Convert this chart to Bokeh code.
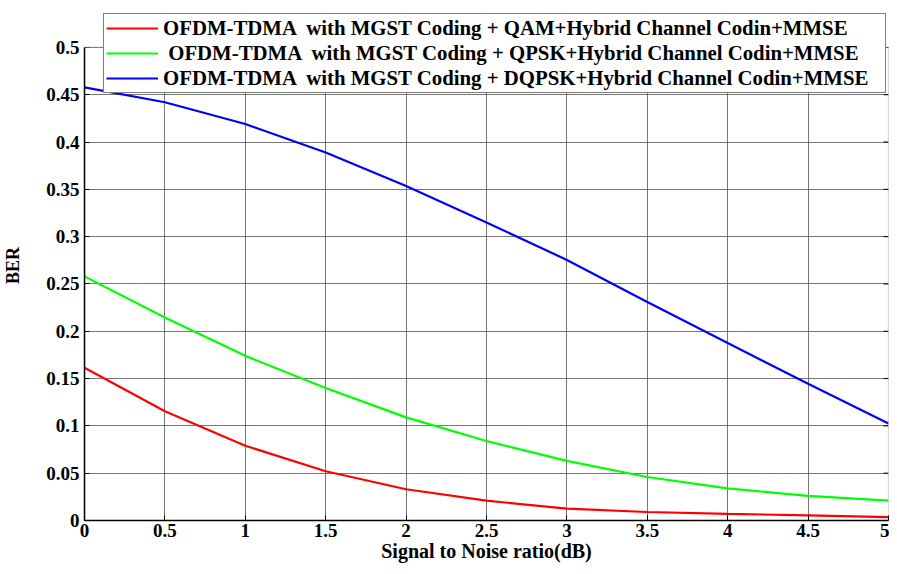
import math
from bokeh.plotting import figure
from bokeh.models import (Legend, LegendItem, FixedTicker, CustomJSTickFormatter,
                          Range1d, BoxAnnotation)
from bokeh.embed import file_html
from bokeh.resources import INLINE

# ---- data ----
snr = [0, 0.5, 1, 1.5, 2, 2.5, 3, 3.5, 4, 4.5, 5]
ber_qam = [0.1615, 0.1155, 0.079, 0.052, 0.033, 0.021, 0.0125, 0.009, 0.007, 0.0055, 0.0035]
ber_qpsk = [0.258, 0.2145, 0.174, 0.140, 0.109, 0.084, 0.063, 0.046, 0.034, 0.026, 0.021]
ber_dqpsk = [0.4577, 0.442, 0.419, 0.389, 0.3535, 0.315, 0.2754, 0.231, 0.1875, 0.1445, 0.1025]

x_ticks = [0, 0.5, 1, 1.5, 2, 2.5, 3, 3.5, 4, 4.5, 5]
y_ticks = [0, 0.05, 0.1, 0.15, 0.2, 0.25, 0.3, 0.35, 0.4, 0.45, 0.5]

labels = [
    "OFDM-TDMA  with MGST Coding + QAM+Hybrid Channel Codin+MMSE",
    " OFDM-TDMA  with MGST Coding + QPSK+Hybrid Channel Codin+MMSE",
    "OFDM-TDMA  with MGST Coding + DQPSK+Hybrid Channel Codin+MMSE",
]
colors = ["#ff0000", "#00ff00", "#0000ff"]

X0, X1 = x_ticks[0], x_ticks[-1]
Y0, Y1 = y_ticks[0], y_ticks[-1]
Y_TOP = 0.539   # extra headroom so the legend can sit above the axes box

FONT = "Liberation Serif"

p = figure(width=889, height=566,
           x_range=Range1d(X0, X1), y_range=Range1d(Y0, Y_TOP),
           output_backend="svg", toolbar_location=None,
           min_border_left=83, min_border_right=1,
           min_border_top=10, min_border_bottom=46)
p.background_fill_color = "white"
p.border_fill_color = "white"
p.outline_line_color = None

fmt = CustomJSTickFormatter(code="return String(Math.round(tick*100)/100);")

for ax in (p.xaxis[0], p.yaxis[0]):
    ax.major_label_text_font = FONT
    ax.major_label_text_font_style = "bold"
    ax.major_label_text_font_size = "19px"
    ax.major_label_text_color = "black"
    ax.axis_label_text_font = FONT
    ax.axis_label_text_font_style = "bold"
    ax.axis_label_text_color = "black"
    ax.major_tick_in = 5
    ax.major_tick_out = 0
    ax.minor_tick_in = 0
    ax.minor_tick_out = 0
    ax.axis_line_color = "black"
    ax.axis_line_width = 1.5
    ax.major_tick_line_color = "black"
    ax.formatter = fmt

p.xaxis[0].ticker = FixedTicker(ticks=x_ticks)
p.yaxis[0].ticker = FixedTicker(ticks=y_ticks)
p.yaxis[0].bounds = (Y0, Y1)
p.xaxis[0].axis_label = "Signal to Noise ratio(dB)"
p.xaxis[0].axis_label_text_font_size = "20px"
p.xaxis[0].major_label_standoff = 3
p.xaxis[0].axis_label_standoff = 0
p.yaxis[0].axis_label = "BER"
p.yaxis[0].axis_label_text_font_size = "18px"
p.yaxis[0].major_label_standoff = 5
p.yaxis[0].axis_label_standoff = 20

p.xgrid.ticker = FixedTicker(ticks=x_ticks)
p.ygrid.ticker = FixedTicker(ticks=y_ticks)
for g in (p.xgrid[0], p.ygrid[0]):
    g.grid_line_color = "#555555"
    g.grid_line_alpha = 0.8
    g.grid_line_width = 1

renderers = []
for ys, c in zip([ber_qam, ber_qpsk, ber_dqpsk], colors):
    r = p.line(snr, ys, line_color=c, line_width=2.2)
    renderers.append(r)

# inward ticks on the right edge of the box
p.ray(x=[X1] * len(y_ticks), y=y_ticks, length=5, length_units="screen",
      angle=math.pi, line_color="black", line_width=1)

# white mask above the axes box, then the box outline
p.add_layout(BoxAnnotation(bottom=Y1, fill_color="white", fill_alpha=1,
                           line_color=None, level="overlay"))
p.add_layout(BoxAnnotation(left=X0, right=X1, bottom=Y0, top=Y1,
                           fill_alpha=0, line_color="black", line_width=1.2,
                           level="overlay"))

legend = Legend(items=[LegendItem(label=l, renderers=[r]) for l, r in zip(labels, renderers)],
                location=(19, 427))
legend.label_text_font = FONT
legend.label_text_font_style = "bold"
legend.label_text_font_size = "20.8px"
legend.label_text_color = "black"
legend.glyph_width = 52
legend.glyph_height = 24
legend.label_height = 24
legend.label_width = 720
legend.label_standoff = 5
legend.spacing = 1
legend.padding = 2
legend.margin = 0
legend.border_line_color = "black"
legend.border_line_width = 1.5
legend.background_fill_color = "white"
legend.background_fill_alpha = 1
legend.level = "overlay"
p.add_layout(legend, "center")

open("out.html", "w").write(file_html(p, INLINE))
